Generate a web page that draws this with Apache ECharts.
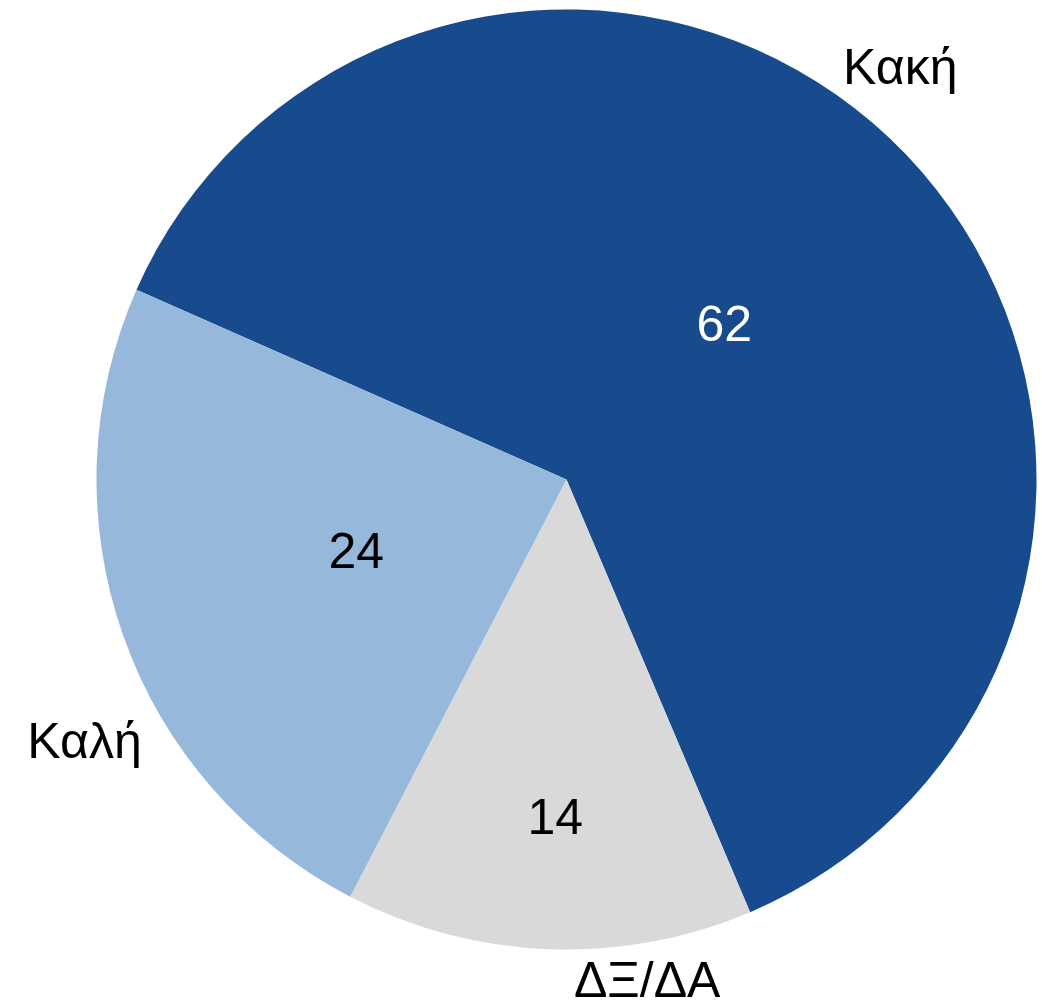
<!DOCTYPE html>
<html>
<head>
<meta charset="utf-8">
<script src="https://cdn.jsdelivr.net/npm/echarts@6/dist/echarts.min.js"></script>
<style>
html,body{margin:0;padding:0;background:#fff;}
#chart{width:1042px;height:1002px;}
</style>
</head>
<body>
<div id="chart"></div>
<script>
// Data
var categories = ['Κακή', 'ΔΞ/ΔΑ', 'Καλή'];
var values = [62, 14, 24];
var sliceColors = ['#174b8d', '#d9d9d9', '#96b9db'];
var valueLabelColors = ['#ffffff', '#000000', '#000000'];

var CENTER = [566.5, 479.5];
var RADIUS = 470;
var START = 156.2;
var FONT = 'Liberation Sans, Arial, Helvetica, sans-serif';
var FONT_SIZE = 50;

var pieData = categories.map(function (c, i) {
  return { name: c, value: values[i], itemStyle: { color: sliceColors[i] } };
});

// transparent helper ring that places one label using the pie's own angle layout
function labelSeries(idx, dist, angleShift, kind) {
  return {
    type: 'pie',
    silent: true,
    animation: false,
    center: CENTER,
    radius: [dist - 1, dist + 1],
    startAngle: START + angleShift,
    clockwise: true,
    itemStyle: { color: 'rgba(0,0,0,0)', borderWidth: 0 },
    labelLine: { show: false },
    emphasis: { disabled: true },
    data: categories.map(function (c, i) {
      return {
        name: c,
        value: values[i],
        label: {
          show: i === idx,
          position: 'inside',
          formatter: kind === 'value' ? '{c}' : '{b}',
          color: kind === 'value' ? valueLabelColors[i] : '#000000',
          fontFamily: FONT,
          fontSize: FONT_SIZE,
          fontWeight: 'normal'
        }
      };
    })
  };
}

var series = [{
  type: 'pie',
  animation: false,
  center: CENTER,
  radius: [0, RADIUS],
  startAngle: START,
  clockwise: true,
  label: { show: false },
  labelLine: { show: false },
  itemStyle: { borderWidth: 0 },
  emphasis: { disabled: true },
  data: pieData
}];

// value labels
series.push(labelSeries(0, 216, -0.7, 'value'));
series.push(labelSeries(1, 338, 0.3, 'value'));
series.push(labelSeries(2, 220, 0.1, 'value'));
// category labels
series.push(labelSeries(0, 525, 6.2, 'name'));
series.push(labelSeries(1, 507, 11.3, 'name'));
series.push(labelSeries(2, 547, 9.4, 'name'));

var chart = echarts.init(document.getElementById('chart'), null, { renderer: 'canvas' });
chart.setOption({
  backgroundColor: '#ffffff',
  animation: false,
  series: series
});
</script>
</body>
</html>
